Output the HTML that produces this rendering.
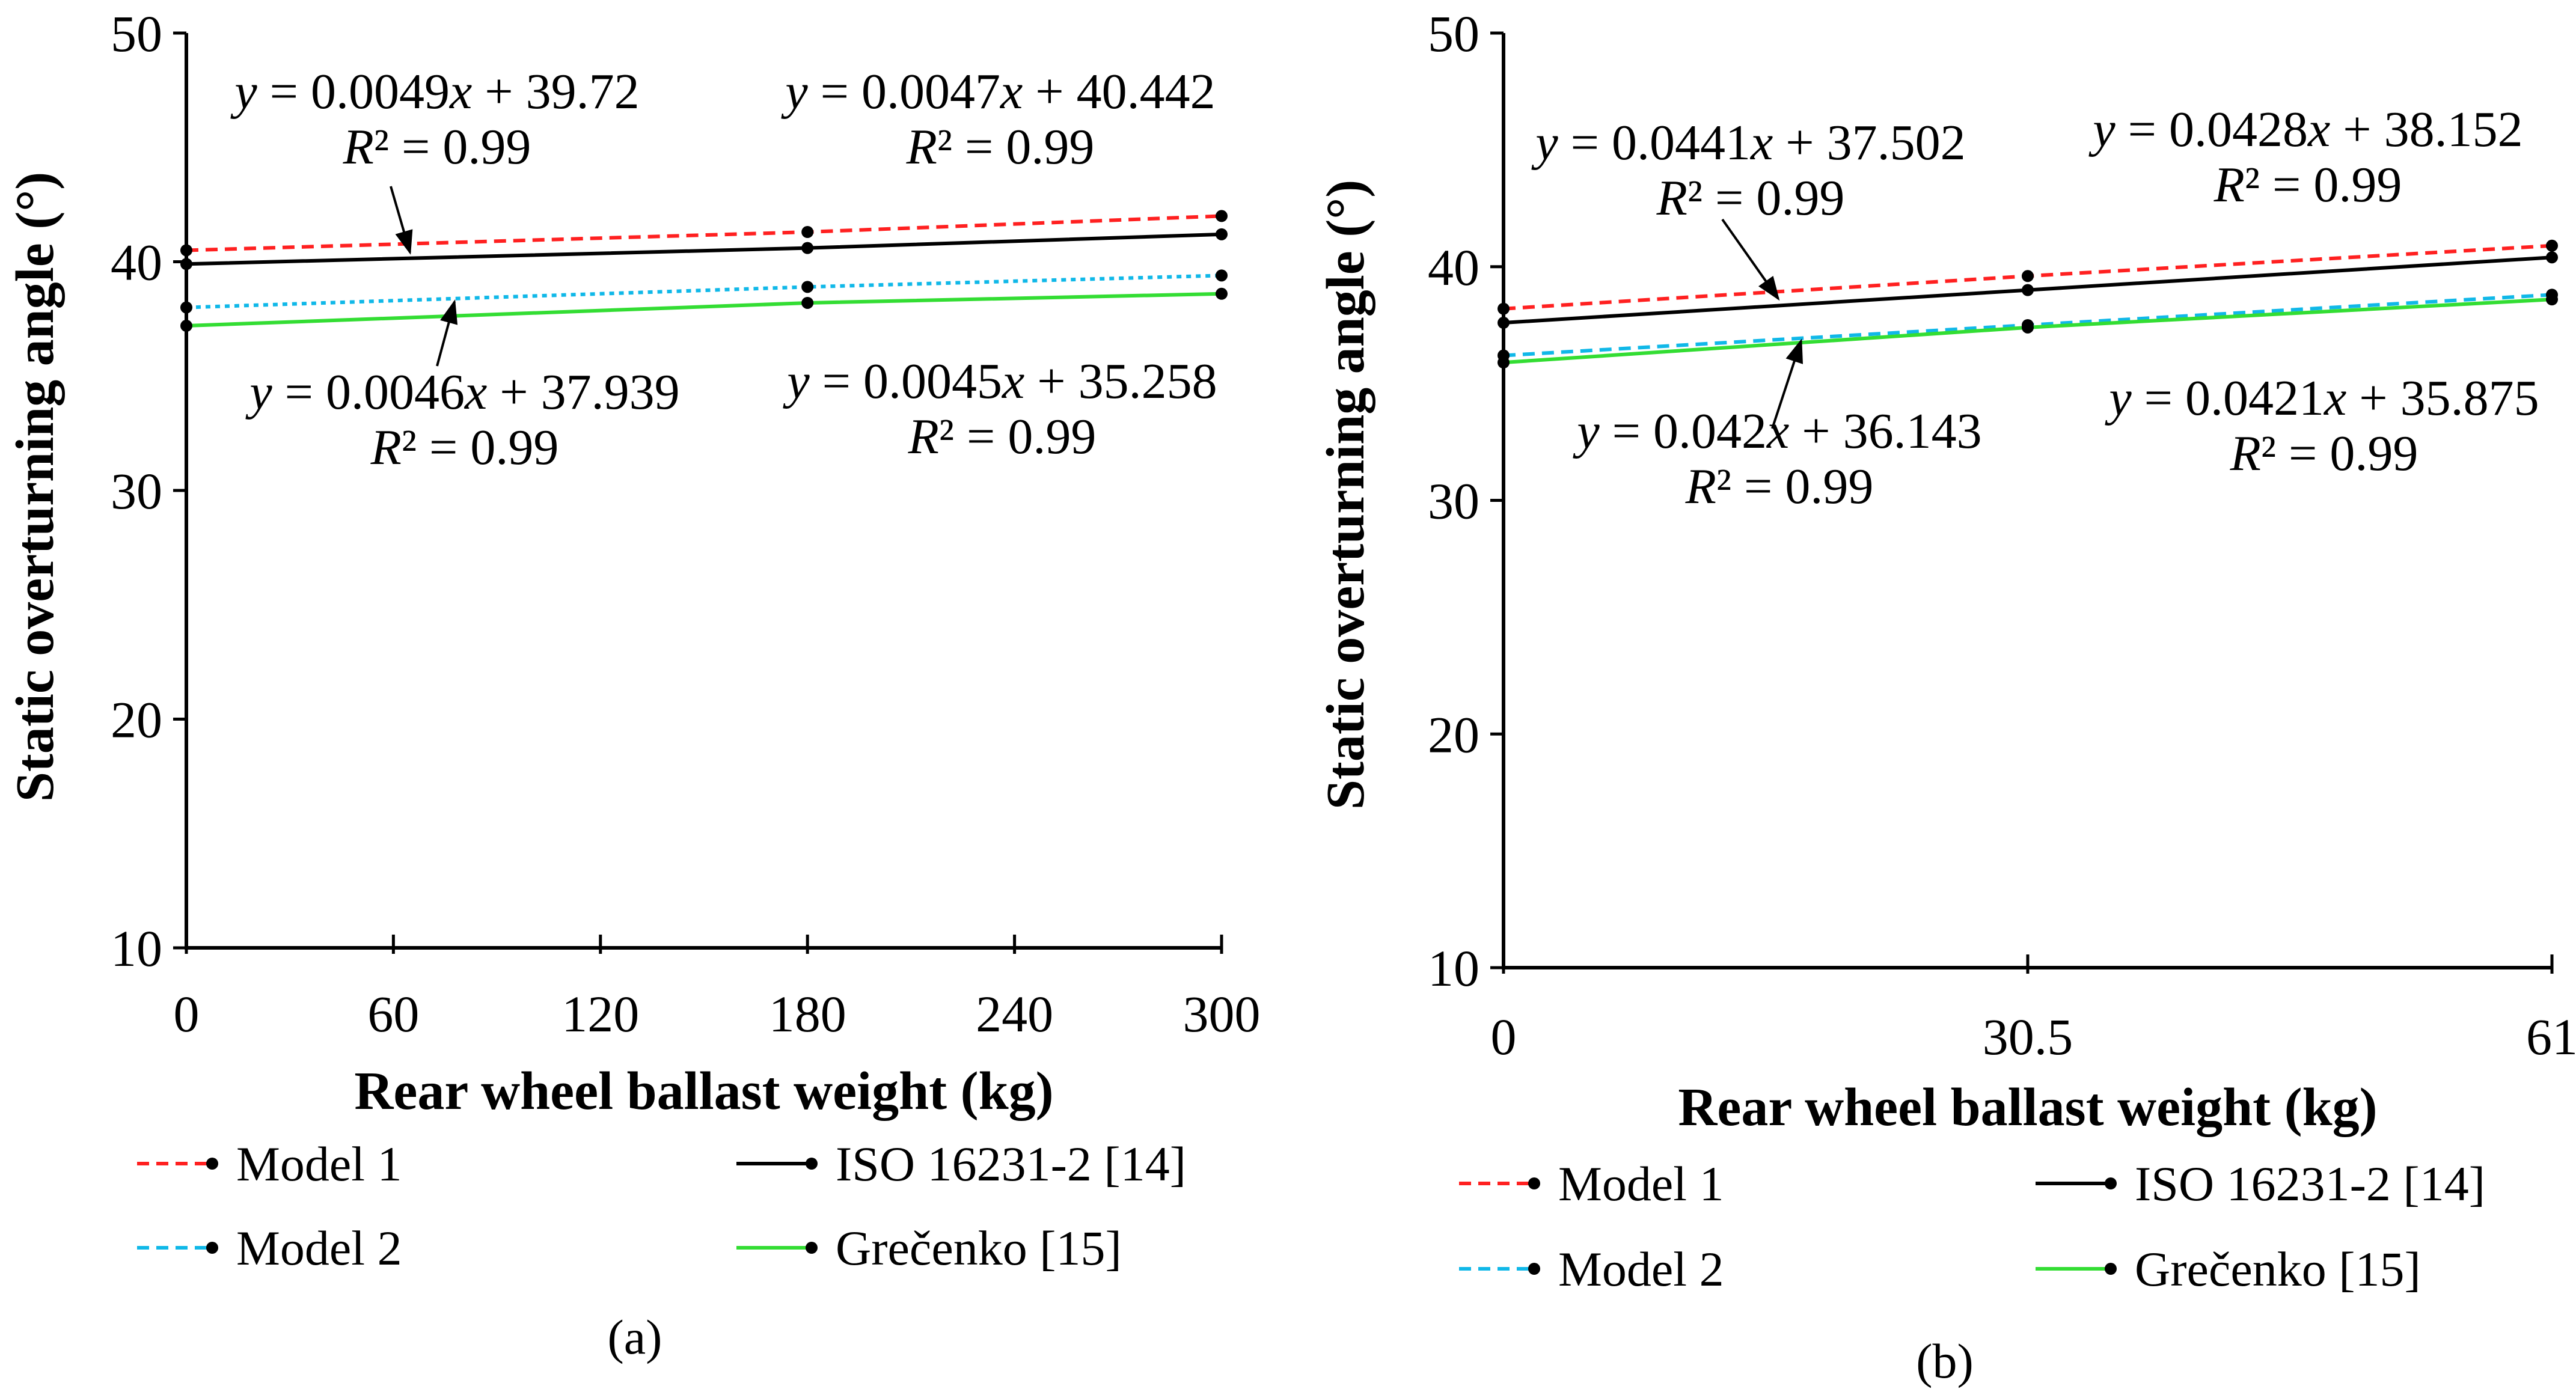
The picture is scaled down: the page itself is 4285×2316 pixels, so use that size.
<!DOCTYPE html>
<html><head><meta charset="utf-8"><style>
html,body{margin:0;padding:0;background:#fff;}
svg{display:block;}
text{font-family:"Liberation Serif",serif;fill:#000;}
.tick{font-size:86px;}
.ttl{font-size:90px;font-weight:bold;}
.eq{font-size:84px;}
.leg{font-size:82px;}
</style></head><body>
<svg id="fig" width="4285" height="2316" viewBox="0 0 4285 2316" xmlns="http://www.w3.org/2000/svg">
<defs><marker id="ah" markerWidth="40" markerHeight="30" refX="36" refY="15" orient="auto" markerUnits="userSpaceOnUse" viewBox="0 0 40 30"><path d="M0,0 L40,15 L0,30 z" fill="#000"/></marker></defs>
<g id="ga"></g>
<g id="gb"></g>
</svg>
<script>
const aCats=[0,180,300];
const aTicks=[0,60,120,180,240,300];
const aModel1=[40.5,41.3,42.0];
const aIso=[39.9,40.6,41.2];
const aModel2=[38.0,38.9,39.4];
const aGrec=[37.2,38.2,38.6];
const bCats=[0,30.5,61];
const bTicks=[0,30.5,61];
const bModel1=[38.2,39.6,40.9];
const bIso=[37.6,39.0,40.4];
const bModel2=[36.2,37.5,38.8];
const bGrec=[35.9,37.4,38.6];
const yTicks=[10,20,30,40,50];
const NS="http://www.w3.org/2000/svg";
function mk(p,t,a,txt){const e=document.createElementNS(NS,t);for(const k in a)e.setAttribute(k,a[k]);if(txt!==undefined)e.textContent=txt;p.appendChild(e);return e;}
function draw(g,cfg){
 const xs=v=>cfg.x0+(v-cfg.xmin)/(cfg.xmax-cfg.xmin)*(cfg.x1-cfg.x0);
 const ys=v=>cfg.yb+(v-10)/40*(cfg.yt-cfg.yb);
 let ax=mk(g,'path',{d:`M${cfg.x0},${cfg.yt} V${cfg.yb} H${cfg.x1}`,stroke:'#000','stroke-width':6,fill:'none'});
 
 
 yTicks.forEach(v=>{
  mk(g,'line',{x1:cfg.x0-22,x2:cfg.x0,y1:ys(v),y2:ys(v),stroke:'#000','stroke-width':5});
  let t=mk(g,'text',{x:cfg.x0-40,y:ys(v)+30,'text-anchor':'end',class:'tick'},v);
  
  
 });
 cfg.xt.forEach(v=>{
  mk(g,'line',{x1:xs(v),x2:xs(v),y1:cfg.yb-22,y2:cfg.yb+10,stroke:'#000','stroke-width':5});
  let t=mk(g,'text',{x:xs(v),y:cfg.xly,'text-anchor':'middle',class:'tick'},v);
  
  
 });
 let xt=mk(g,'text',{x:(cfg.x0+cfg.x1)/2,y:cfg.xty,'text-anchor':'middle',class:'ttl'},'Rear wheel ballast weight (kg)');
 
 
 let yt=mk(g,'text',{x:0,y:0,'text-anchor':'middle',class:'ttl',transform:`translate(${cfg.ytx},${cfg.yty}) rotate(-90)`},'Static overturning angle (°)');
 
 
 cfg.series.forEach(s=>{
  const pts=cfg.cats.map((c,i)=>xs(c)+','+ys(s.v[i])).join(' ');
  let l=mk(g,'polyline',{points:pts,fill:'none',stroke:s.c,'stroke-width':6,'stroke-dasharray':s.d});
  
  
  cfg.cats.forEach((c,i)=>{
   let d=mk(g,'circle',{cx:xs(c),cy:ys(s.v[i]),r:10,fill:'#000'});
   
   
  });
 });
 cfg.eqs.forEach(e=>{
  let t=mk(g,'text',{x:e[0],y:e[1],'text-anchor':'middle',class:'eq'});
  t.innerHTML=e[2];
  
  
  let r=mk(g,'text',{x:e[0],y:e[1]+92,'text-anchor':'middle',class:'eq'});
  r.innerHTML='<tspan font-style="italic">R</tspan>² = 0.99';
  
  
 });
 cfg.arrows.forEach(a=>{
  let l=mk(g,'line',{x1:a[0],y1:a[1],x2:a[2],y2:a[3],stroke:'#000','stroke-width':4,'marker-end':'url(#ah)'});
  
  
 });
 cfg.series.forEach((s,i)=>{
  const lx=cfg.leg[i][0],ly=cfg.leg[i][1];
  const lg=mk(g,'g',{});
  
  
  mk(lg,'line',{x1:lx,x2:lx+120,y1:ly,y2:ly,stroke:s.c,'stroke-width':6,'stroke-dasharray':s.ld});
  mk(lg,'circle',{cx:lx+125,cy:ly,r:10,fill:'#000'});
  mk(lg,'text',{x:lx+165,y:ly+28,class:'leg'},s.n);
 });
}
const eqA=(m,b)=>`<tspan font-style="italic">y</tspan> = ${m}<tspan font-style="italic">x</tspan> + ${b}`;
draw(document.getElementById('ga'),{x0:310,x1:2032,xmin:0,xmax:300,yt:55,yb:1577,xt:aTicks,cats:aCats,xly:1716,xty:1845,ytx:88,yty:810,
 series:[{v:aModel1,c:'#ff2020',d:'20 12',ld:'20 12',n:'Model 1'},{v:aIso,c:'#000',d:'none',ld:'none',n:'ISO 16231-2 [14]'},{v:aModel2,c:'#10b8e8',d:'8 8',ld:'20 12',n:'Model 2'},{v:aGrec,c:'#33dd33',d:'none',ld:'none',n:'Grečenko [15]'}],
 leg:[[228,1936],[1225,1936],[228,2076],[1225,2076]],
 eqs:[[727,180,eqA('0.0049','39.72')],[1664,180,eqA('0.0047','40.442')],[773,680,eqA('0.0046','37.939')],[1667,662,eqA('0.0045','35.258')]],
 arrows:[[650,310,682,420],[727,609,756,502]]});
draw(document.getElementById('gb'),{x0:2501,x1:4245,xmin:0,xmax:61,yt:55,yb:1610,xt:bTicks,cats:bCats,xly:1754,xty:1872,ytx:2268,yty:823,
 series:[{v:bModel1,c:'#ff2020',d:'20 12',ld:'20 12',n:'Model 1'},{v:bIso,c:'#000',d:'none',ld:'none',n:'ISO 16231-2 [14]'},{v:bModel2,c:'#10b8e8',d:'20 12',ld:'20 12',n:'Model 2'},{v:bGrec,c:'#33dd33',d:'none',ld:'none',n:'Grečenko [15]'}],
 leg:[[2427,1969],[3386,1969],[2427,2111],[3386,2111]],
 eqs:[[2912,265,eqA('0.0441','37.502')],[3839,243,eqA('0.0428','38.152')],[2960,745,eqA('0.042','36.143')],[3866,690,eqA('0.0421','35.875')]],
 arrows:[[2865,365,2958,497],[2948,713,2996,567]]});
const ca=mk(document.getElementById('fig'),'text',{x:1056,y:2252,'text-anchor':'middle',class:'leg'},'(a)');


const cb=mk(document.getElementById('fig'),'text',{x:3235,y:2292,'text-anchor':'middle',class:'leg'},'(b)');


</script>
</body></html>
